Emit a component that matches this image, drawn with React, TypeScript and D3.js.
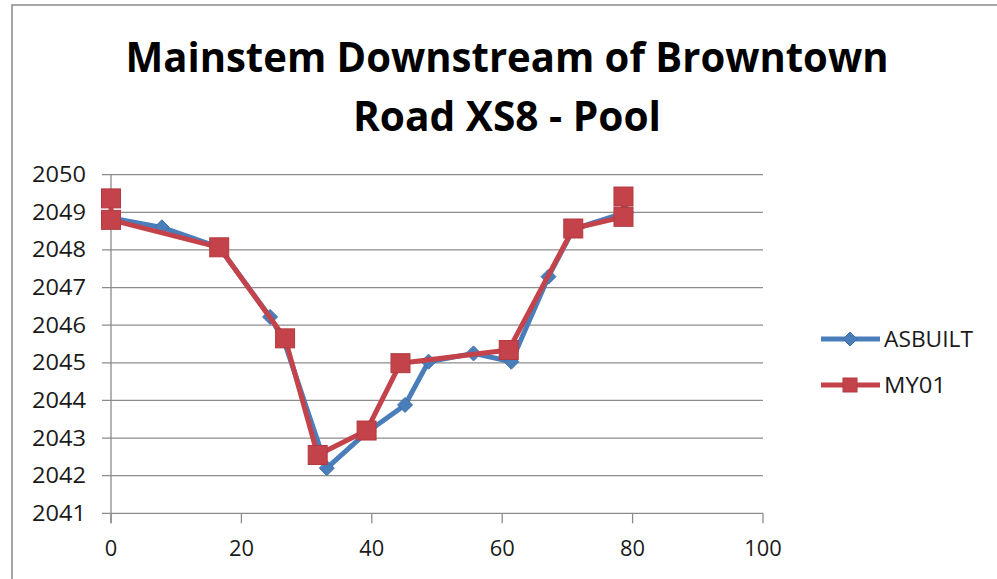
import React from "react";
import * as d3 from "d3";

const titleLines = ["Mainstem Downstream of Browntown", "Road XS8 - Pool"];
const xTicks = [0, 20, 40, 60, 80, 100];
const yTicks = [2041, 2042, 2043, 2044, 2045, 2046, 2047, 2048, 2049, 2050];

const asbuiltX = [0, 7.8, 16.6, 24.4, 26.5, 33.1, 39.2, 45.1, 48.7, 55.6, 61.4, 67.1, 70.9, 79.0];
const asbuiltY = [2048.85, 2048.6, 2048.07, 2046.22, 2045.6, 2042.2, 2043.15, 2043.88, 2045.03, 2045.25, 2045.03, 2047.29, 2048.55, 2049.0];

const my01X = [0, 0, 16.6, 26.7, 31.7, 39.2, 44.4, 61.0, 70.9, 78.6, 78.6];
const my01Y = [2049.37, 2048.8, 2048.07, 2045.65, 2042.55, 2043.2, 2044.99, 2045.34, 2048.57, 2048.88, 2049.42];

const seriesNames = ["ASBUILT", "MY01"];
const BLUE = "#4A7EBB";
const RED = "#C4434A";

export default function App() {
  const W = 997, H = 579;
  const x = d3.scaleLinear().domain([0, 100]).range([111, 763]);
  const y = d3.scaleLinear().domain([2041, 2050]).range([513.3, 174.7]);
  const line = d3.line<[number, number]>().x(d => x(d[0])).y(d => y(d[1]));
  const blue: [number, number][] = asbuiltX.map((v, i) => [v, asbuiltY[i]]);
  const red: [number, number][] = my01X.map((v, i) => [v, my01Y[i]]);
  const font = "'Open Sans', 'Liberation Sans', sans-serif";
  const diamond = (cx: number, cy: number, r: number) =>
    `M${cx},${cy - r}L${cx + r},${cy}L${cx},${cy + r}L${cx - r},${cy}Z`;

  return (
    <svg width={W} height={H} style={{ position: "absolute", left: 0, top: 0, background: "#fff" }}>
      <rect x={0} y={0} width={W} height={H} fill="#fff" />
      <path d={`M12,${H + 5}V5H${W + 5}`} fill="none" stroke="#8a8a8a" strokeWidth={1.5} />
      {/* title */}
      <text x={507} y={72} textAnchor="middle" fontFamily={font} fontWeight={700} fontSize={42}
        textLength={763} lengthAdjust="spacingAndGlyphs" fill="#000">{titleLines[0]}</text>
      <text x={507} y={131} textAnchor="middle" fontFamily={font} fontWeight={700} fontSize={42}
        textLength={308} lengthAdjust="spacingAndGlyphs" fill="#000">{titleLines[1]}</text>
      {/* gridlines */}
      {yTicks.map(t => (
        <line key={"g" + t} x1={x(0) - 9} x2={x(100)} y1={y(t)} y2={y(t)} stroke="#8c8c8c" strokeWidth={1.3} />
      ))}
      {/* axes */}
      <line x1={x(0)} x2={x(0)} y1={y(2050)} y2={y(2041) + 10} stroke="#8c8c8c" strokeWidth={1.3} />
      {xTicks.map(t => (
        <line key={"xt" + t} x1={x(t)} x2={x(t)} y1={y(2041)} y2={y(2041) + 10} stroke="#8c8c8c" strokeWidth={1.3} />
      ))}
      {yTicks.map(t => (
        <text key={"yl" + t} x={86} y={y(t) + 7.5} textAnchor="end" fontFamily={font} fontSize={21}
          textLength={54} lengthAdjust="spacingAndGlyphs" fill="#1a1a1a">{t}</text>
      ))}
      {xTicks.map(t => {
        const s = String(t);
        return (
          <text key={"xl" + t} x={x(t)} y={556} textAnchor="middle" fontFamily={font} fontSize={21}
            textLength={s.length * 12.5} lengthAdjust="spacingAndGlyphs" fill="#1a1a1a">{s}</text>
        );
      })}
      {/* ASBUILT */}
      <path d={line(blue) || ""} fill="none" stroke={BLUE} strokeWidth={5} strokeLinejoin="round" />
      {blue.map((p, i) => (
        <path key={"bd" + i} d={diamond(x(p[0]), y(p[1]), 7.5)} fill={BLUE} stroke="#3f6fa8" strokeWidth={1} />
      ))}
      {/* MY01 */}
      <path d={line(red) || ""} fill="none" stroke={RED} strokeWidth={5} strokeLinejoin="round" />
      {red.map((p, i) => (
        <rect key={"rs" + i} x={x(p[0]) - 9.5} y={y(p[1]) - 9.5} width={19} height={19} fill={RED} stroke="#b23a40" strokeWidth={1} />
      ))}
      {/* legend */}
      <line x1={821} x2={880} y1={339} y2={339} stroke={BLUE} strokeWidth={5} />
      <path d={diamond(850, 339, 7)} fill={BLUE} stroke="#3f6fa8" strokeWidth={1} />
      <text x={884} y={347} fontFamily={font} fontSize={21} textLength={89} lengthAdjust="spacingAndGlyphs" fill="#1a1a1a">{seriesNames[0]}</text>
      <line x1={821} x2={880} y1={385} y2={385} stroke={RED} strokeWidth={5} />
      <rect x={843} y={378} width={14} height={14} fill={RED} stroke="#b23a40" strokeWidth={1} />
      <text x={884} y={393} fontFamily={font} fontSize={21} textLength={62} lengthAdjust="spacingAndGlyphs" fill="#1a1a1a">{seriesNames[1]}</text>
    </svg>
  );
}
